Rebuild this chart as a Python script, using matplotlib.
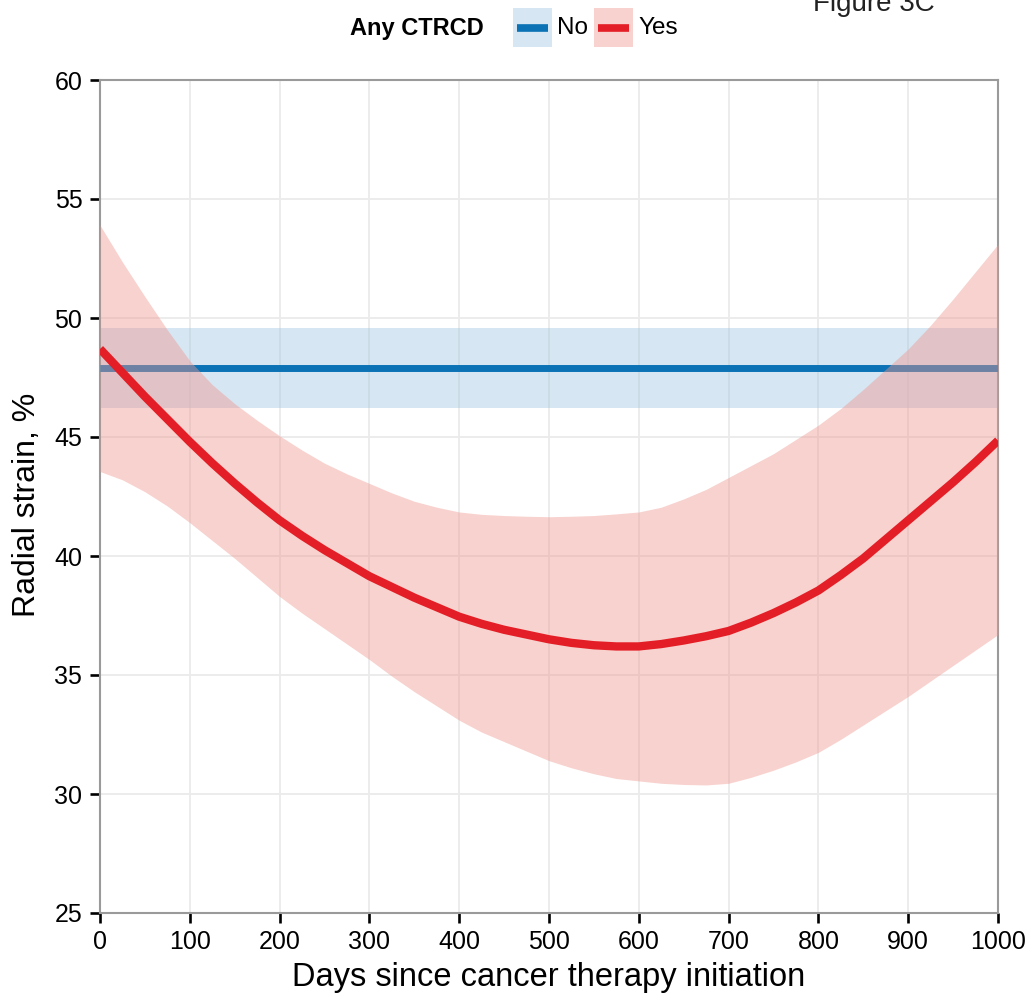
import matplotlib.pyplot as plt
from matplotlib.patches import Rectangle
from matplotlib.lines import Line2D

plt.rcParams['font.family'] = ['Liberation Sans', 'DejaVu Sans']

# Model estimates of radial strain by CTRCD status (every 25 days)
days = list(range(0, 1001, 25))
yes_fit = [48.7, 47.7, 46.7, 45.75, 44.8, 43.9, 43.05, 42.25, 41.5, 40.85,
           40.25, 39.7, 39.15, 38.7, 38.25, 37.85, 37.45, 37.15, 36.9, 36.7,
           36.5, 36.35, 36.25, 36.2, 36.2, 36.3, 36.45, 36.63, 36.85, 37.2,
           37.6, 38.05, 38.55, 39.2, 39.9, 40.7, 41.5, 42.3, 43.1, 43.95, 44.85]
yes_upper = [53.9, 52.35, 50.9, 49.5, 48.2, 47.2, 46.4, 45.7, 45.05, 44.45,
             43.9, 43.45, 43.05, 42.65, 42.3, 42.05, 41.85, 41.75, 41.7, 41.67,
             41.65, 41.67, 41.7, 41.77, 41.85, 42.05, 42.4, 42.8, 43.3, 43.8,
             44.3, 44.9, 45.5, 46.2, 47.0, 47.85, 48.7, 49.7, 50.8, 51.95, 53.1]
yes_lower = [43.55, 43.2, 42.7, 42.1, 41.4, 40.65, 39.9, 39.1, 38.3, 37.6,
             36.95, 36.3, 35.65, 34.95, 34.3, 33.7, 33.1, 32.6, 32.2, 31.8,
             31.4, 31.1, 30.85, 30.65, 30.55, 30.45, 30.4, 30.38, 30.45, 30.7,
             31.0, 31.35, 31.75, 32.3, 32.9, 33.5, 34.1, 34.75, 35.4, 36.05, 36.7]
no_days = [0, 1000]
no_fit = [47.9, 47.9]
no_lower = [46.2, 46.2]
no_upper = [49.6, 49.6]

blue = '#0a72b5'
blue_fill = '#a0c7e1'
red = '#e41e26'
red_fill = '#f0978f'

fig = plt.figure(figsize=(10.35, 10.02), dpi=100)
ax = fig.add_axes([100 / 1035, 1 - 913 / 1002, 898 / 1035, 833 / 1002])

ax.fill_between(no_days, no_lower, no_upper, color=blue_fill, alpha=0.43,
                linewidth=0, zorder=2)
ax.plot(no_days, no_fit, color=blue, linewidth=5, solid_capstyle='butt', zorder=3)

ax.fill_between(days, yes_lower, yes_upper, color=red_fill, alpha=0.43,
                linewidth=0, zorder=4)
ax.plot(days, yes_fit, color=red, linewidth=6, solid_capstyle='butt',
        solid_joinstyle='round', zorder=5)

ax.set_xlim(0, 1000)
ax.set_ylim(25, 60)
ax.set_xticks(range(0, 1001, 100))
ax.set_yticks(range(25, 61, 5))
ax.grid(True, color='#ebebeb', linewidth=1.3, zorder=0)
ax.set_axisbelow(True)
for s in ax.spines.values():
    s.set_color('#9a9a9a')
    s.set_linewidth(1.5)
ax.tick_params(axis='both', length=7.2, width=1.9, color='black', labelsize=18,
               labelcolor='black')
ax.tick_params(axis='y', pad=5.5)
ax.tick_params(axis='x', pad=5)
ax.set_xlabel('Days since cancer therapy initiation', fontsize=23.5, labelpad=6)
ax.set_ylabel('Radial strain, %', fontsize=23)
ax.yaxis.set_label_coords(-0.065, 0.49)

# legend along the top
W, H = 1035, 1002


def fx(px):
    return px / W


def fy(py):
    return 1 - py / H


fig.text(fx(350), fy(28), 'Any CTRCD', fontsize=17, fontweight='bold', va='center')
for x0, fill, col, lab in [(513, blue_fill, blue, 'No'), (594, red_fill, red, 'Yes')]:
    fig.add_artist(Rectangle((fx(x0), fy(47)), fx(39), 39 / H, transform=fig.transFigure,
                             facecolor=fill, alpha=0.43, edgecolor='none'))
    fig.add_artist(Line2D([fx(x0 + 4), fx(x0 + 35)], [fy(27.5)] * 2, transform=fig.transFigure,
                          color=col, linewidth=5.5, solid_capstyle='butt'))
    fig.text(fx(x0 + 44), fy(28), lab, fontsize=17.5, va='center')

fig.text(fx(813), fy(11), 'Figure 3C', fontsize=20, va='baseline', color='#222222')

fig.savefig('out.png', dpi=100, facecolor='white')
